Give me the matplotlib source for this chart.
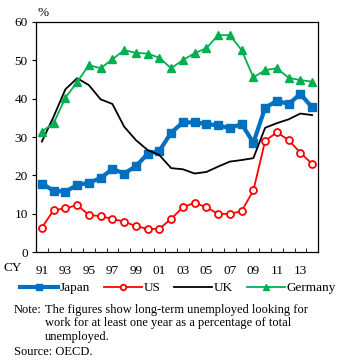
import numpy as np
import matplotlib
matplotlib.use("Agg")
import matplotlib.pyplot as plt

plt.rcParams["font.family"] = ["Liberation Serif", "DejaVu Serif"]

# Data (share of long-term unemployed, %)
years = list(range(1991, 2015))
japan = [17.9, 16.0, 15.8, 17.5, 18.1, 19.3, 21.7, 20.5, 22.4, 25.6, 26.4, 31.1,
         33.8, 33.8, 33.4, 33.0, 32.3, 33.4, 28.5, 37.6, 39.4, 38.6, 41.2, 37.7]
us = [6.4, 11.0, 11.4, 12.3, 9.7, 9.4, 8.7, 8.0, 6.8, 6.1, 6.1, 8.7,
      11.7, 12.9, 11.7, 10.0, 10.0, 10.7, 16.1, 29.0, 31.2, 29.2, 25.9, 23.0]
uk = [28.8, 35.3, 42.4, 45.3, 43.5, 39.8, 38.6, 32.7, 29.2, 26.6, 25.3, 21.9,
      21.6, 20.5, 20.9, 22.3, 23.6, 24.0, 24.5, 32.4, 33.6, 34.6, 36.1, 35.7]
germany = [31.4, 33.6, 40.2, 44.3, 48.7, 47.9, 50.2, 52.6, 51.9, 51.7, 50.6, 47.9,
           50.0, 51.8, 53.1, 56.5, 56.5, 52.6, 45.5, 47.4, 47.9, 45.4, 44.8, 44.4]
tick_years = list(range(1991, 2015, 2))
tick_labels = ["%02d" % (y % 100) for y in tick_years]

fig = plt.figure(figsize=(3.53, 3.60), dpi=100)
ax = fig.add_axes([36 / 353, 1 - 252.3 / 360, 282 / 353, 230.6 / 360])

ax.plot(years, japan, color="#0070C0", lw=3, marker="s", ms=6, label="Japan")
ax.plot(years, us, color="#FF0000", lw=1.3, marker="o", ms=5, mfc="white",
        mec="#FF0000", mew=1.3, label="US")
ax.plot(years, uk, color="black", lw=1.3, label="UK")
ax.plot(years, germany, color="#00B050", lw=1.3, marker="^", ms=5.5, label="Germany")

ax.set_xlim(1990.5, 2014.5)
ax.set_ylim(0, 60)
ax.set_yticks(range(0, 61, 10))
ax.set_xticks(tick_years)
ax.set_xticklabels(tick_labels)
ax.set_xticks(np.arange(1991.5, 2014, 1), minor=True)
ax.tick_params(axis="x", which="major", length=0, labelsize=9.5, pad=9)
ax.tick_params(axis="x", which="minor", direction="in", length=3)
ax.tick_params(axis="y", direction="out", length=3, labelsize=9.5, pad=3)
for s in ax.spines.values():
    s.set_linewidth(0.9)

fig.text(38 / 353, 1 - 13 / 360, "%", fontsize=9.5, va="center")
fig.text(3 / 353, 1 - 268 / 360, "CY", fontsize=9.5, va="center")

leg = fig.legend(loc="center", bbox_to_anchor=(178 / 353, 1 - 288 / 360), ncol=4,
                 frameon=False, fontsize=9.5, handlelength=2.9, columnspacing=1.0,
                 handletextpad=0.15, borderaxespad=0, borderpad=0, markerscale=0.8)

fig.text(14 / 353, 1 - 310 / 360, "Note:", fontsize=9, va="center")
fig.text(45 / 353, 1 - 310 / 360, "The figures show long-term unemployed looking for",
         fontsize=9, va="center")
fig.text(45 / 353, 1 - 323 / 360, "work for at least one year as a percentage of total",
         fontsize=9, va="center")
fig.text(45 / 353, 1 - 337 / 360, "unemployed.", fontsize=9, va="center")
fig.text(14 / 353, 1 - 352 / 360, "Source: OECD.", fontsize=9, va="center")

fig.savefig("out.png", dpi=100)
